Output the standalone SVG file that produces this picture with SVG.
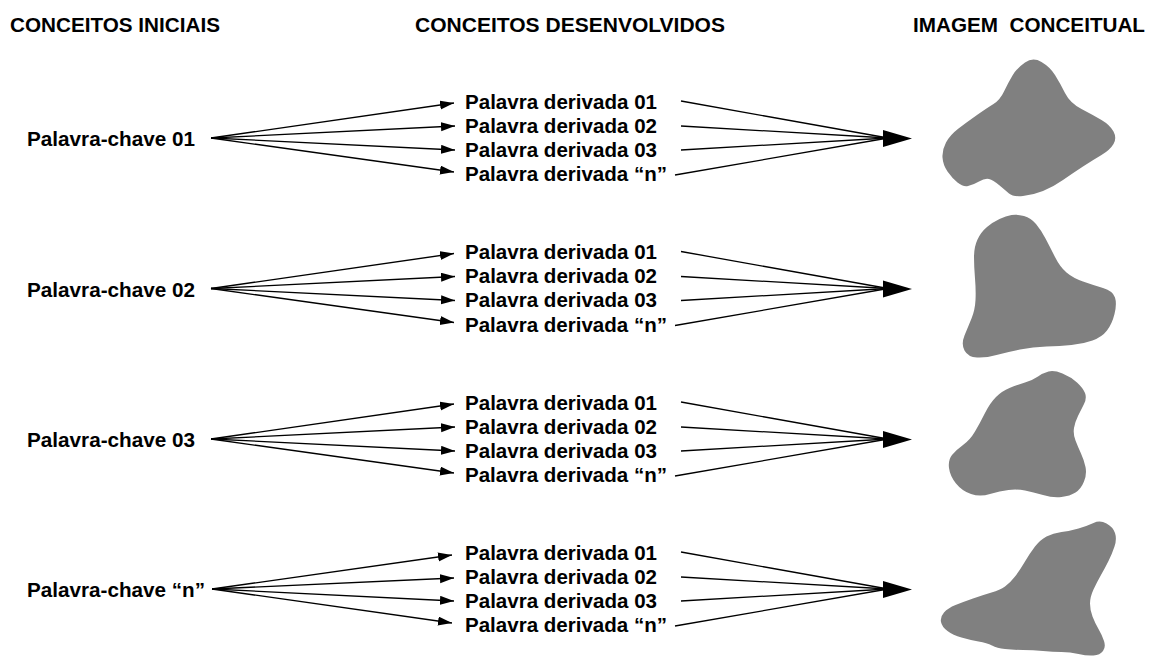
<svg xmlns="http://www.w3.org/2000/svg" width="1150" height="659" viewBox="0 0 1150 659">
<style>
.h{font-family:"Liberation Sans",Arial,sans-serif;font-weight:bold;font-size:20.5px;fill:#000}
.t{font-family:"Liberation Sans",Arial,sans-serif;font-weight:bold;font-size:21px;fill:#000}
.c line{stroke:#000;stroke-width:1.3}
.a{marker-end:url(#ah)}
.big{fill:#000}
.blob{fill:#808080}
</style>
<defs>
<marker id="ah" markerUnits="userSpaceOnUse" markerWidth="16" markerHeight="10" refX="14" refY="4.5" orient="auto">
<path d="M0,0 L14,4.5 L0,9 z" fill="#000"/>
</marker>
</defs>
<rect width="1150" height="659" fill="#fff"/>
<g id="headers">
<text class="h" x="10" y="32" textLength="210" lengthAdjust="spacingAndGlyphs">CONCEITOS INICIAIS</text>
<text class="h" x="415" y="32" textLength="310" lengthAdjust="spacingAndGlyphs">CONCEITOS DESENVOLVIDOS</text>
<text class="h" x="913" y="32" textLength="232" lengthAdjust="spacingAndGlyphs" xml:space="preserve">IMAGEM  CONCEITUAL</text>
</g>
<g id="connectors" class="c">
<g transform="translate(0,0)">
<line class="a" x1="211" y1="138" x2="454" y2="103"/>
<line class="a" x1="211" y1="138" x2="455" y2="126"/>
<line class="a" x1="211" y1="138" x2="455" y2="150"/>
<line class="a" x1="211" y1="138" x2="454" y2="172"/>
<line x1="681" y1="101" x2="888" y2="138"/>
<line x1="681" y1="126" x2="888" y2="138"/>
<line x1="681" y1="150" x2="888" y2="138"/>
<line x1="675" y1="175" x2="888" y2="138"/>
<polygon class="big" points="883,130 912,138.5 883,147"/>
</g>
<g transform="translate(0,150.5)">
<line class="a" x1="211" y1="138" x2="454" y2="103"/>
<line class="a" x1="211" y1="138" x2="455" y2="126"/>
<line class="a" x1="211" y1="138" x2="455" y2="150"/>
<line class="a" x1="211" y1="138" x2="454" y2="172"/>
<line x1="681" y1="101" x2="888" y2="138"/>
<line x1="681" y1="126" x2="888" y2="138"/>
<line x1="681" y1="150" x2="888" y2="138"/>
<line x1="675" y1="175" x2="888" y2="138"/>
<polygon class="big" points="883,130 912,138.5 883,147"/>
</g>
<g transform="translate(0,301)">
<line class="a" x1="211" y1="138" x2="454" y2="103"/>
<line class="a" x1="211" y1="138" x2="455" y2="126"/>
<line class="a" x1="211" y1="138" x2="455" y2="150"/>
<line class="a" x1="211" y1="138" x2="454" y2="172"/>
<line x1="681" y1="101" x2="888" y2="138"/>
<line x1="681" y1="126" x2="888" y2="138"/>
<line x1="681" y1="150" x2="888" y2="138"/>
<line x1="675" y1="175" x2="888" y2="138"/>
<polygon class="big" points="883,130 912,138.5 883,147"/>
</g>
<g transform="translate(0,451)">
<line class="a" x1="212" y1="138" x2="452" y2="104"/>
<line class="a" x1="212" y1="138" x2="454" y2="127"/>
<line class="a" x1="212" y1="138" x2="454" y2="150"/>
<line class="a" x1="212" y1="138" x2="452" y2="172"/>
<line x1="681" y1="101" x2="888" y2="138"/>
<line x1="681" y1="126" x2="888" y2="138"/>
<line x1="681" y1="150" x2="888" y2="138"/>
<line x1="675" y1="175" x2="888" y2="138"/>
<polygon class="big" points="883,130 912,138.5 883,147"/>
</g>
</g>
<g id="key01"><text class="t" x="27" y="146" textLength="168" lengthAdjust="spacingAndGlyphs">Palavra-chave 01</text></g>
<g id="key02"><text class="t" x="27" y="296.5" textLength="168" lengthAdjust="spacingAndGlyphs">Palavra-chave 02</text></g>
<g id="key03"><text class="t" x="27" y="447" textLength="168" lengthAdjust="spacingAndGlyphs">Palavra-chave 03</text></g>
<g id="keyn"><text class="t" x="27" y="597" textLength="178" lengthAdjust="spacingAndGlyphs">Palavra-chave “n”</text></g>
<g id="derived1" transform="translate(0,0)">
<text class="t" x="465" y="108.5" textLength="192" lengthAdjust="spacingAndGlyphs">Palavra derivada 01</text>
<text class="t" x="465" y="132.5" textLength="192" lengthAdjust="spacingAndGlyphs">Palavra derivada 02</text>
<text class="t" x="465" y="156.5" textLength="192" lengthAdjust="spacingAndGlyphs">Palavra derivada 03</text>
<text class="t" x="465" y="181" textLength="202" lengthAdjust="spacingAndGlyphs">Palavra derivada “n”</text>
</g>
<g id="derived2" transform="translate(0,150.5)">
<text class="t" x="465" y="108.5" textLength="192" lengthAdjust="spacingAndGlyphs">Palavra derivada 01</text>
<text class="t" x="465" y="132.5" textLength="192" lengthAdjust="spacingAndGlyphs">Palavra derivada 02</text>
<text class="t" x="465" y="156.5" textLength="192" lengthAdjust="spacingAndGlyphs">Palavra derivada 03</text>
<text class="t" x="465" y="181" textLength="202" lengthAdjust="spacingAndGlyphs">Palavra derivada “n”</text>
</g>
<g id="derived3" transform="translate(0,301)">
<text class="t" x="465" y="108.5" textLength="192" lengthAdjust="spacingAndGlyphs">Palavra derivada 01</text>
<text class="t" x="465" y="132.5" textLength="192" lengthAdjust="spacingAndGlyphs">Palavra derivada 02</text>
<text class="t" x="465" y="156.5" textLength="192" lengthAdjust="spacingAndGlyphs">Palavra derivada 03</text>
<text class="t" x="465" y="181" textLength="202" lengthAdjust="spacingAndGlyphs">Palavra derivada “n”</text>
</g>
<g id="derivedn" transform="translate(0,451)">
<text class="t" x="465" y="108.5" textLength="192" lengthAdjust="spacingAndGlyphs">Palavra derivada 01</text>
<text class="t" x="465" y="132.5" textLength="192" lengthAdjust="spacingAndGlyphs">Palavra derivada 02</text>
<text class="t" x="465" y="156.5" textLength="192" lengthAdjust="spacingAndGlyphs">Palavra derivada 03</text>
<text class="t" x="465" y="181" textLength="202" lengthAdjust="spacingAndGlyphs">Palavra derivada “n”</text>
</g>
<g id="image1"><path class="blob" d="M1025,62.5 Q1033,57 1041.5,62 Q1050,67 1055,75 Q1060,83 1065,93 Q1070,103 1081.5,109 Q1093,115 1101.5,120 Q1110,125 1113.5,131.5 Q1117,138 1113.5,144 Q1110,150 1101.5,155 Q1093,160 1083,166.5 Q1073,173 1063,180 Q1053,187 1043,191 Q1033,195 1023,196 Q1013,197 1009,193.5 Q1005,190 999,185 Q993,180 989,179 Q985,178 979,181.5 Q973,185 968,186 Q963,187 957.5,182.5 Q952,178 947.5,171.5 Q943,165 942.5,157.5 Q942,150 946,142.5 Q950,135 958.5,128.5 Q967,122 977,115 Q987,108 993.5,104 Q1000,100 1004,91.5 Q1008,83 1012.5,75.5 Q1017,68 1025,62.5 Z"/></g>
<g id="image2"><path class="blob" d="M1011.5,215 Q1017,214 1024,216 Q1031,218 1036,224 Q1041,230 1045.5,238.5 Q1050,247 1055,257 Q1060,267 1066.5,272.5 Q1073,278 1083,281.5 Q1093,285 1103,288 Q1113,291 1115,297.5 Q1117,304 1114.5,314 Q1112,324 1107,330.5 Q1102,337 1092.5,340.5 Q1083,344 1071.5,345 Q1060,346 1046.5,346.5 Q1033,347 1020,349.5 Q1007,352 996.5,355 Q986,358 977,357.5 Q968,357 964.5,350.5 Q961,344 964.5,335.5 Q968,327 971.5,318.5 Q975,310 975.5,300 Q976,290 975,278.5 Q974,267 974,257 Q974,247 977.5,239.5 Q981,232 987,227 Q993,222 999.5,219 Q1006,216 1011.5,215 Z"/></g>
<g id="image3"><path class="blob" d="M1048.5,371.5 Q1054,370 1062.5,373.5 Q1071,377 1077,382.5 Q1083,388 1085,393 Q1087,398 1084,404 Q1081,410 1078,416 Q1075,422 1074,428 Q1073,434 1075.5,440.5 Q1078,447 1081,453.5 Q1084,460 1085.5,467 Q1087,474 1084,481.5 Q1081,489 1075.5,492.5 Q1070,496 1061.5,497 Q1053,498 1043,495 Q1033,492 1025,490.5 Q1017,489 1008.5,490 Q1000,491 990,494 Q980,497 971,494 Q962,491 956,483.5 Q950,476 949,468 Q948,460 952,455 Q956,450 963,445 Q970,440 975,431.5 Q980,423 985,413 Q990,403 996,397 Q1002,391 1009.5,388 Q1017,385 1025,382.5 Q1033,380 1038,376.5 Q1043,373 1048.5,371.5 Z"/></g>
<g id="imagen"><path class="blob" d="M1093.5,523 Q1100,520 1106.5,523.5 Q1113,527 1115,533 Q1117,539 1114.5,546.5 Q1112,554 1108.5,561 Q1105,568 1101,575 Q1097,582 1093.5,589.5 Q1090,597 1090,603.5 Q1090,610 1092.5,616.5 Q1095,623 1098.5,629 Q1102,635 1104,641 Q1106,647 1103,651 Q1100,655 1093.5,655.5 Q1087,656 1078.5,654 Q1070,652 1061.5,652 Q1053,652 1043,651 Q1033,650 1023,650 Q1013,650 1005,649 Q997,648 992,645.5 Q987,643 978.5,641.5 Q970,640 961.5,637.5 Q953,635 947.5,631 Q942,627 941,622 Q940,617 944,612.5 Q948,608 955.5,605 Q963,602 973,598.5 Q983,595 991.5,592.5 Q1000,590 1005,586.5 Q1010,583 1015,576.5 Q1020,570 1025,561.5 Q1030,553 1035,546.5 Q1040,540 1046.5,536.5 Q1053,533 1061.5,532 Q1070,531 1078.5,528.5 Q1087,526 1093.5,523 Z"/></g>
</svg>
